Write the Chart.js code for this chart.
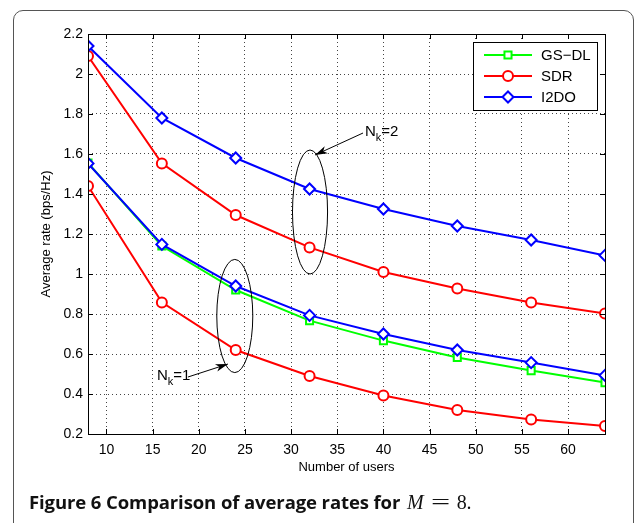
<!DOCTYPE html>
<html>
<head>
<meta charset="utf-8">
<script src="https://cdn.jsdelivr.net/npm/chart.js@4.4.0/dist/chart.umd.min.js"></script>
<style>
  html, body { margin:0; padding:0; background:#fff; }
  #frame { position:absolute; left:13px; top:10px; width:619px; height:540px; border:1px solid #555; border-radius:10px; }
  #wrap { position:absolute; left:0; top:0; width:635px; height:523px; }
  #caption { position:absolute; left:29px; top:489px; font-family:"Open Sans"; font-weight:bold; font-size:18.5px; color:#111; white-space:nowrap; letter-spacing:-0.1px; }
  #caption .m { font-family:"Liberation Serif"; font-weight:normal; font-size:20px; margin-left:2px; }
  #caption .eq { display:inline-block; transform:scaleX(1.7); margin:0 11px; }
</style>
</head>
<body>
<div id="frame"></div>
<div id="wrap"><canvas id="c" width="635" height="523"></canvas></div>
<div id="caption">Figure 6 Comparison of average rates for <span class="m"><i>M</i><span class="eq">=</span>8.</span></div>
<script>
// données
const users = [8, 16, 24, 32, 40, 48, 56, 64];
const i2do_nk2 = [2.14, 1.78, 1.58, 1.425, 1.325, 1.24, 1.17, 1.093];
const sdr_nk2  = [2.09, 1.553, 1.295, 1.133, 1.01, 0.927, 0.857, 0.803];
const i2do_nk1 = [1.553, 1.148, 0.94, 0.793, 0.70, 0.62, 0.557, 0.493];
const gsdl_nk1 = [1.555, 1.14, 0.92, 0.767, 0.667, 0.583, 0.517, 0.457];
const sdr_nk1  = [1.44, 0.858, 0.62, 0.49, 0.393, 0.32, 0.273, 0.24];
const xTicks = [10, 15, 20, 25, 30, 35, 40, 45, 50, 55, 60];
const yTicks = [0.2, 0.4, 0.6, 0.8, 1, 1.2, 1.4, 1.6, 1.8, 2, 2.2];
const legendNames = ['GS\u2212DL', 'SDR', 'I2DO'];

const GREEN = '#00ff00', RED = '#ff0000', BLUE = '#0000ff';

const pts = arr => arr.map((v, i) => ({ x: users[i], y: v }));

function serie(data, color, style, order) {
  return {
    data: pts(data), borderColor: color, borderWidth: 2, pointStyle: style,
    pointRadius: style === 'rectRot' ? 5.5 : 5, pointBorderWidth: 2,
    pointBackgroundColor: '#fff', pointBorderColor: color,
    tension: 0, order: order
  };
}

// ticks intérieurs, cadre, ellipses, flèches, légende
const decor = {
  id: 'decor',
  afterDatasetsDraw(chart) {
    const { ctx, chartArea: a, scales: { x, y } } = chart;
    ctx.save();
    ctx.strokeStyle = '#000';
    ctx.lineWidth = 1;
    ctx.strokeRect(a.left + 0.5, a.top + 0.5, a.right - a.left, a.bottom - a.top);
    ctx.beginPath();
    xTicks.forEach(t => {
      const px = Math.round(x.getPixelForValue(t)) + 0.5;
      ctx.moveTo(px, a.bottom); ctx.lineTo(px, a.bottom - 5);
      ctx.moveTo(px, a.top); ctx.lineTo(px, a.top + 5);
    });
    yTicks.forEach(t => {
      const py = Math.round(y.getPixelForValue(t)) + 0.5;
      ctx.moveTo(a.left, py); ctx.lineTo(a.left + 5, py);
      ctx.moveTo(a.right, py); ctx.lineTo(a.right - 5, py);
    });
    ctx.stroke();

    // ellipses
    const ell = (cx, cy, rx, ry) => {
      const px = x.getPixelForValue(cx), py = y.getPixelForValue(cy);
      const rpx = Math.abs(x.getPixelForValue(cx + rx) - px);
      const rpy = Math.abs(y.getPixelForValue(cy + ry) - py);
      ctx.beginPath();
      ctx.ellipse(px, py, rpx, rpy, 0, 0, Math.PI * 2);
      ctx.stroke();
    };
    ell(32.05, 1.31, 1.9, 0.31);
    ell(23.9, 0.79, 1.95, 0.283);

    // flèches
    const arrow = (x0, y0, x1, y1) => {
      const ax = x.getPixelForValue(x0), ay = y.getPixelForValue(y0);
      const bx = x.getPixelForValue(x1), by = y.getPixelForValue(y1);
      const ang = Math.atan2(by - ay, bx - ax);
      ctx.beginPath(); ctx.moveTo(ax, ay); ctx.lineTo(bx, by); ctx.stroke();
      ctx.beginPath();
      ctx.moveTo(bx, by);
      ctx.lineTo(bx - 13 * Math.cos(ang - 0.3), by - 13 * Math.sin(ang - 0.3));
      ctx.lineTo(bx - 9 * Math.cos(ang), by - 9 * Math.sin(ang));
      ctx.lineTo(bx - 13 * Math.cos(ang + 0.3), by - 13 * Math.sin(ang + 0.3));
      ctx.closePath(); ctx.fillStyle = '#000'; ctx.fill();
    };
    arrow(37.79, 1.705, 32.59, 1.595);
    arrow(18.83, 0.485, 23.16, 0.55);

    const nk = (label, vx, vy) => {
      let px = x.getPixelForValue(vx), py = y.getPixelForValue(vy);
      ctx.fillStyle = '#000';
      ctx.textBaseline = 'alphabetic'; ctx.textAlign = 'left';
      ctx.font = '15px "Liberation Sans"';
      ctx.fillText('N', px, py);
      px += ctx.measureText('N').width;
      ctx.font = '11px "Liberation Sans"';
      ctx.fillText('k', px, py + 5);
      px += ctx.measureText('k').width;
      ctx.font = '15px "Liberation Sans"';
      ctx.fillText(label, px, py);
    };
    nk('=2', 38.0, 1.69);
    nk('=1', 15.47, 0.47);

    // légende
    const lx = a.right - 132, ly = a.top + 8, lw = 124, lh = 68;
    ctx.fillStyle = '#fff';
    ctx.fillRect(lx, ly, lw, lh);
    ctx.lineWidth = 1;
    ctx.strokeStyle = '#000';
    ctx.strokeRect(lx + 0.5, ly + 0.5, lw, lh);
    const colors = [GREEN, RED, BLUE], styles = ['rect', 'circle', 'rectRot'];
    legendNames.forEach((n, i) => {
      const yy = ly + 13 + i * 21;
      ctx.strokeStyle = colors[i]; ctx.lineWidth = 2;
      ctx.beginPath(); ctx.moveTo(lx + 11, yy); ctx.lineTo(lx + 59, yy); ctx.stroke();
      ctx.fillStyle = '#fff';
      Chart.helpers.drawPoint(ctx, { pointStyle: styles[i], radius: styles[i] === 'rectRot' ? 5.5 : 5, borderWidth: 2 }, lx + 35, yy);
      ctx.fillStyle = '#000';
      ctx.font = '15px "Liberation Sans"';
      ctx.textBaseline = 'middle';
      ctx.fillText(n, lx + 68, yy + 1);
    });
    ctx.restore();
  }
};

new Chart(document.getElementById('c'), {
  type: 'line',
  data: {
    datasets: [
      serie(i2do_nk2, BLUE, 'rectRot', 1),
      serie(sdr_nk2, RED, 'circle', 2),
      serie(i2do_nk1, BLUE, 'rectRot', 1),
      serie(gsdl_nk1, GREEN, 'rect', 3),
      serie(sdr_nk1, RED, 'circle', 2)
    ]
  },
  options: {
    responsive: false, animation: false, devicePixelRatio: 1,
    layout: { padding: { left: 30, top: 34, right: 30, bottom: 44 } },
    plugins: { legend: { display: false }, tooltip: { enabled: false } },
    scales: {
      x: {
        type: 'linear', min: 8, max: 64,
        afterBuildTicks: s => { s.ticks = xTicks.map(v => ({ value: v })); },
        afterFit: s => { s.height = 45; },
        grid: { color: '#444', lineWidth: 1, drawTicks: false },
        border: { display: false, dash: [1, 3] },
        ticks: { color: '#000', padding: 8, font: { family: 'Liberation Sans', size: 14 }, maxRotation: 0 },
        title: { display: true, text: 'Number of users', color: '#000', padding: { top: 0, bottom: 4 }, font: { family: 'Liberation Sans', size: 13 } }
      },
      y: {
        min: 0.2, max: 2.2,
        afterBuildTicks: s => { s.ticks = yTicks.map(v => ({ value: v })); },
        afterFit: s => { s.width = 58; },
        grid: { color: '#444', lineWidth: 1, drawTicks: false },
        border: { display: false, dash: [1, 3] },
        ticks: { color: '#000', padding: 5, font: { family: 'Liberation Sans', size: 14 }, callback: v => String(v) },
        title: { display: true, text: 'Average rate (bps/Hz)', color: '#000', padding: { top: 9, bottom: 0 }, font: { family: 'Liberation Sans', size: 13 } }
      }
    }
  },
  plugins: [decor]
});
</script>
</body>
</html>
